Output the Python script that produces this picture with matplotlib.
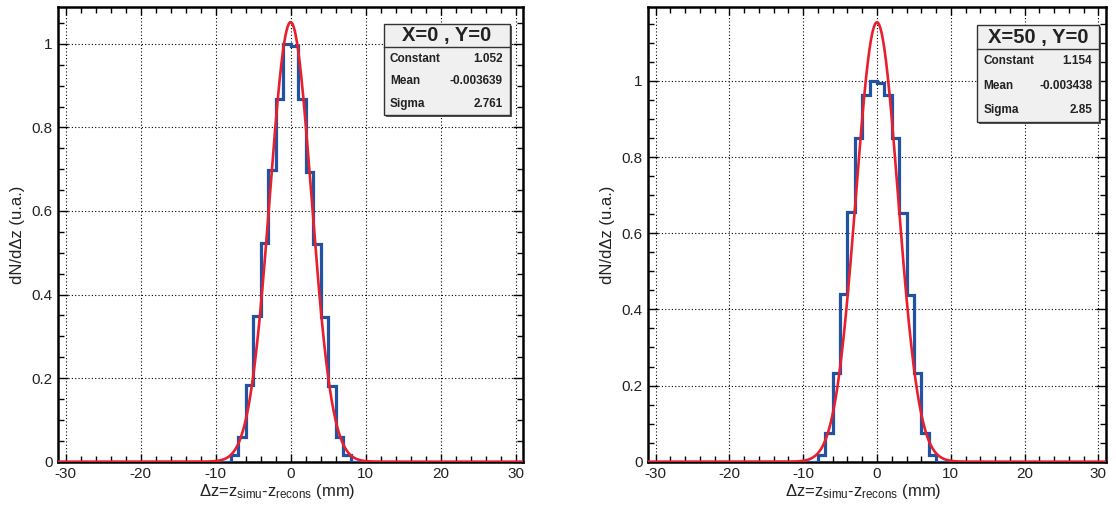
import numpy as np
import matplotlib
matplotlib.use("Agg")
import matplotlib.pyplot as plt
from matplotlib.patches import Rectangle
from matplotlib.ticker import MultipleLocator, FormatStrFormatter

plt.rcParams['font.family'] = ['Liberation Sans', 'DejaVu Sans']
plt.rcParams['mathtext.fontset'] = 'custom'
plt.rcParams['mathtext.rm'] = 'Liberation Sans'
plt.rcParams['mathtext.it'] = 'Liberation Sans'
plt.rcParams['axes.unicode_minus'] = False

# histogram: 1 mm bins from -31 to 31, only the central 16 bins are filled
bin_edges = np.arange(-31, 32)
core_left = [0.016, 0.06, 0.184, 0.348, 0.524, 0.698, 0.867, 1.0,
             0.995, 0.869, 0.694, 0.52, 0.346, 0.18, 0.06, 0.016]
core_right = [0.018, 0.076, 0.232, 0.441, 0.656, 0.851, 0.962, 1.0,
              0.996, 0.962, 0.851, 0.653, 0.439, 0.232, 0.076, 0.018]
counts_left = [0.0] * 23 + core_left + [0.0] * 23
counts_right = [0.0] * 23 + core_right + [0.0] * 23

# gaussian fit results (stat boxes)
titles = ["X=0 , Y=0", "X=50 , Y=0"]
constants = [1.052, 1.154]
means = [-0.003639, -0.003438]
sigmas = [2.761, 2.85]
mean_labels = ["-0.003639", "-0.003438"]
sigma_labels = ["2.761", "2.85"]
const_labels = ["1.052", "1.154"]
y_tops = [1.087, 1.193]

W, H = 1116, 505
fig = plt.figure(figsize=(W / 100, H / 100), dpi=100)

def px_axes(x0, x1, ytop, ybot):
    return fig.add_axes([x0 / W, 1 - ybot / H, (x1 - x0) / W, (ybot - ytop) / H])

ax1 = px_axes(58.3, 523, 7.5, 461.7)
ax2 = px_axes(648.3, 1105.7, 7.5, 461.7)

# stat box pixel frames: left, right, top, divider, bottom
boxes = [(384, 510, 24.3, 47.3, 115), (977.3, 1099.3, 25, 49.3, 122.3)]

blue = '#2252a2'
red = '#e8202e'
xfit = np.linspace(-31, 31, 1500)

for i, (ax, counts) in enumerate([(ax1, counts_left), (ax2, counts_right)]):
    ax.stairs(counts, bin_edges, color=blue, lw=2.3, zorder=3)
    yfit = constants[i] * np.exp(-0.5 * ((xfit - means[i]) / sigmas[i]) ** 2)
    ax.plot(xfit, yfit, color=red, lw=1.9, zorder=4)

    ax.set_xlim(-31, 31)
    ax.set_ylim(0, y_tops[i])
    ax.xaxis.set_major_locator(MultipleLocator(10))
    ax.xaxis.set_minor_locator(MultipleLocator(2))
    ax.yaxis.set_major_locator(MultipleLocator(0.2))
    ax.yaxis.set_minor_locator(MultipleLocator(0.05))
    ax.yaxis.set_major_formatter(FormatStrFormatter('%g'))
    ax.tick_params(axis='both', which='both', direction='in', top=True, right=True,
                   labelsize=11, labelcolor='#222222', color='black')
    ax.tick_params(axis='x', which='major', length=6, width=1, pad=4)
    ax.tick_params(axis='x', which='minor', length=4.5, width=1)
    ax.tick_params(axis='y', which='major', length=7.5, width=1, pad=4)
    ax.tick_params(axis='y', which='minor', length=4.5, width=1)
    for s in ax.spines.values():
        s.set_linewidth(1.8)
    ax.grid(True, which='major', color='black', linestyle=(0, (1, 2)), lw=0.8)
    ax.set_axisbelow(True)

    ax.set_ylabel('dN/dΔz (u.a.)', fontsize=12, color='#222222')
    ax.yaxis.set_label_coords(-0.072, 0.5)
    ax.set_xlabel('Δz=z$_{\\mathrm{simu}}$-z$_{\\mathrm{recons}}$ (mm)',
                  fontsize=12, color='#222222')
    ax.xaxis.set_label_coords(0.47, -0.045)

    # stat box
    bl, br, bt, bd, bb = boxes[i]
    shadow = Rectangle((bl / W + 2 / W, 1 - bb / H - 2 / H), (br - bl) / W, (bb - bt) / H,
                       transform=fig.transFigure, facecolor='#555555', edgecolor='none',
                       zorder=9)
    fig.add_artist(shadow)
    rect = Rectangle((bl / W, 1 - bb / H), (br - bl) / W, (bb - bt) / H,
                     transform=fig.transFigure, facecolor='#f0f0f0', edgecolor='#333333',
                     lw=1.0, zorder=10)
    fig.add_artist(rect)
    fig.add_artist(plt.Line2D([bl / W, br / W], [1 - bd / H, 1 - bd / H],
                              transform=fig.transFigure, color='#333333', lw=1.0, zorder=11))
    fig.text((bl + br) / 2 / W, 1 - (bt + bd) / 2 / H, titles[i], fontsize=14.5,
             fontweight='bold', ha='center', va='center', color='#222222', zorder=12)
    row_h = (bb - bd) / 3
    rows = [("Constant", const_labels[i]), ("Mean", mean_labels[i]), ("Sigma", sigma_labels[i])]
    for k, (lab, val) in enumerate(rows):
        yc = 1 - (bd + row_h * (k + 0.5)) / H
        fig.text((bl + 6) / W, yc, lab, fontsize=8.5, fontweight='bold', ha='left',
                 va='center', color='#222222', zorder=12)
        fig.text((br - 7) / W, yc, val, fontsize=8.5, fontweight='bold', ha='right',
                 va='center', color='#222222', zorder=12)

fig.savefig('out.png', dpi=100)
